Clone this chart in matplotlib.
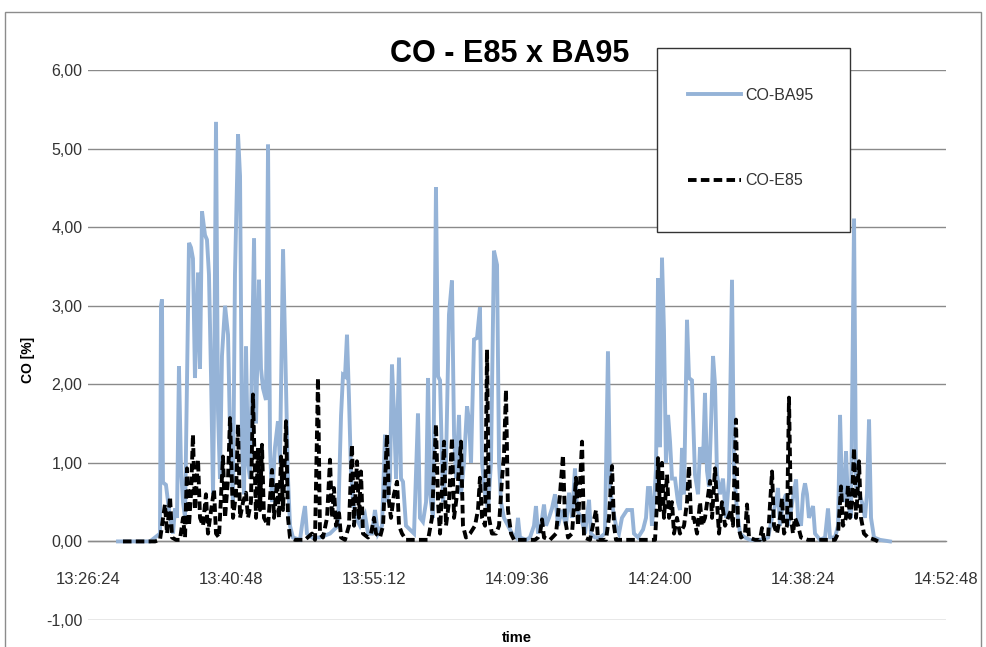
import matplotlib
matplotlib.use('Agg')
import matplotlib.pyplot as plt
from matplotlib.patches import Rectangle
from matplotlib.ticker import FixedLocator, FuncFormatter

plt.rcParams['font.family'] = ['Liberation Sans', 'DejaVu Sans']

# ---------------- data (time in minutes after 13:00:00, CO in %) ----------------
title = 'CO - E85 x BA95'
x_label = 'time'
y_label = 'CO [%]'
series_names = ['CO-BA95', 'CO-E85']

x_ticks_min = [26.4, 40.8, 55.2, 69.6, 84.0, 98.4, 112.8]
y_ticks = [-1, 0, 1, 2, 3, 4, 5, 6]

ba95_time = [29.42, 32.64, 33.15, 33.65, 33.75, 33.85, 33.95, 34.25, 34.46, 34.66,
             34.96, 35.16, 35.36, 35.56, 35.77, 35.97, 36.17, 36.57, 36.77, 36.97,
             37.17, 37.38, 37.48, 37.68, 37.88, 38.18, 38.38, 38.58, 38.79, 38.99,
             39.09, 39.29, 39.49, 39.69, 39.89, 40.20, 40.50, 40.70, 41.00, 41.20,
             41.51, 41.71, 41.91, 42.11, 42.31, 42.51, 42.71, 43.12, 43.32, 43.62,
             43.82, 44.02, 44.32, 44.53, 44.73, 44.93, 45.23, 45.53, 45.73, 46.04,
             46.34, 46.54, 46.74, 47.04, 47.75, 48.05, 48.25, 48.45, 48.96, 49.76,
             50.77, 51.58, 51.88, 52.08, 52.28, 52.48, 52.68, 52.88, 53.09, 53.39,
             53.79, 54.29, 54.60, 55.00, 55.30, 55.60, 56.01, 56.31, 56.51, 56.81,
             57.01, 57.21, 57.42, 57.72, 57.92, 58.12, 58.42, 58.83, 59.23, 59.63,
             59.83, 60.13, 60.44, 60.64, 60.84, 61.14, 61.44, 61.65, 61.85, 62.15,
             62.45, 62.75, 63.05, 63.26, 63.46, 63.76, 63.96, 64.26, 64.57, 64.77,
             64.97, 65.27, 65.57, 65.87, 66.08, 66.38, 66.68, 66.98, 67.28, 67.59,
             67.79, 67.99, 68.29, 68.69, 69.10, 69.50, 69.70, 69.90, 70.51, 70.91,
             71.31, 71.51, 71.72, 72.02, 72.32, 72.52, 72.82, 73.12, 73.43, 73.73,
             74.13, 74.53, 74.84, 75.14, 75.44, 75.64, 76.05, 76.45, 76.85, 77.05,
             77.45, 77.96, 78.46, 78.76, 78.97, 79.27, 79.57, 79.87, 80.17, 80.68,
             81.18, 81.38, 81.79, 82.29, 82.59, 82.79, 82.99, 83.19, 83.40, 83.60,
             83.80, 84.00, 84.20, 84.40, 84.60, 84.81, 85.01, 85.21, 85.51, 85.81,
             86.01, 86.22, 86.42, 86.72, 86.92, 87.22, 87.52, 87.83, 88.03, 88.33,
             88.53, 88.73, 88.93, 89.14, 89.34, 89.54, 89.74, 90.04, 90.34, 90.65,
             90.95, 91.25, 91.45, 91.75, 92.06, 92.56, 93.06, 94.07, 94.88, 95.28,
             95.68, 95.88, 96.08, 96.39, 96.69, 96.89, 97.19, 97.70, 97.90, 98.20,
             98.40, 98.60, 98.80, 99.00, 99.41, 99.61, 100.11, 100.62, 100.92, 101.12,
             101.62, 101.93, 102.13, 102.33, 102.53, 102.73, 102.93, 103.23, 103.54, 103.74,
             104.04, 104.34, 104.64, 104.84, 105.05, 105.25, 105.55, 106.15, 107.16]
ba95_co = [0.00, 0.00, 0.05, 0.10, 3.00, 3.08, 0.75, 0.72, 0.50, 0.30,
           0.10, 0.42, 0.30, 2.23, 0.90, 0.50, 0.30, 3.80, 3.74, 3.60,
           2.08, 2.95, 3.42, 2.20, 4.20, 3.90, 3.84, 3.40, 2.10, 0.60,
           1.70, 5.34, 1.66, 0.80, 2.36, 3.00, 2.63, 1.40, 0.50, 3.40,
           5.18, 4.65, 1.20, 0.60, 2.48, 1.00, 0.80, 3.86, 1.50, 3.33,
           2.20, 1.95, 1.80, 5.05, 1.20, 0.50, 1.20, 1.53, 1.00, 3.72,
           1.95, 0.80, 0.20, 0.05, 0.02, 0.30, 0.45, 0.10, 0.05, 0.05,
           0.10, 0.20, 1.60, 2.12, 2.10, 2.63, 1.83, 0.90, 0.50, 0.30,
           0.20, 0.34, 0.10, 0.10, 0.40, 0.10, 0.20, 1.36, 0.50, 0.80,
           2.25, 1.66, 0.80, 2.34, 0.80, 0.76, 0.20, 0.15, 0.10, 1.63,
           0.30, 0.25, 0.50, 2.08, 0.60, 0.30, 4.51, 2.10, 2.05, 0.50,
           1.00, 2.89, 3.32, 1.36, 0.80, 1.61, 0.60, 1.00, 1.72, 1.53,
           1.00, 2.57, 2.59, 2.98, 1.00, 0.60, 0.40, 1.00, 3.70, 3.52,
           1.00, 0.50, 0.30, 0.20, 0.10, 0.05, 0.30, 0.05, 0.02, 0.05,
           0.20, 0.45, 0.10, 0.20, 0.47, 0.20, 0.30, 0.42, 0.60, 0.20,
           0.40, 0.20, 0.62, 0.30, 0.93, 0.40, 0.30, 0.10, 0.53, 0.10,
           0.05, 0.05, 0.10, 2.42, 0.68, 0.40, 0.20, 0.10, 0.30, 0.40,
           0.40, 0.10, 0.05, 0.15, 0.30, 0.68, 0.68, 0.20, 0.50, 0.93,
           3.35, 1.20, 3.61, 2.68, 1.00, 1.61, 1.27, 0.80, 0.80, 0.50,
           0.40, 1.19, 0.60, 2.82, 2.08, 2.05, 0.85, 0.60, 1.20, 1.00,
           1.89, 0.90, 0.70, 1.50, 2.36, 2.00, 0.85, 0.60, 0.80, 0.30,
           0.80, 3.33, 0.90, 0.40, 0.10, 0.05, 0.02, 0.02, 0.05, 0.30,
           0.50, 0.68, 0.20, 0.50, 0.60, 0.20, 0.40, 0.79, 0.30, 0.20,
           0.60, 0.74, 0.60, 0.30, 0.45, 0.10, 0.02, 0.05, 0.42, 0.05,
           0.05, 0.20, 1.61, 0.60, 0.50, 1.15, 0.50, 0.30, 4.11, 0.70,
           0.60, 0.50, 0.30, 0.60, 1.55, 0.30, 0.05, 0.02, 0.00]

e85_time = [29.92, 33.15, 33.65, 34.15, 34.36, 34.66, 34.86, 35.26, 35.66, 35.97,
            36.17, 36.37, 36.57, 36.77, 36.97, 37.17, 37.48, 37.68, 37.98, 38.28,
            38.48, 38.69, 39.09, 39.29, 39.59, 39.99, 40.20, 40.50, 40.70, 41.00,
            41.30, 41.51, 41.71, 42.01, 42.31, 42.51, 42.81, 43.01, 43.32, 43.52,
            43.72, 43.92, 44.12, 44.53, 44.93, 45.13, 45.43, 45.63, 45.84, 46.04,
            46.34, 46.54, 46.74, 47.24, 48.25, 48.96, 49.26, 49.56, 49.76, 50.06,
            50.47, 50.77, 50.97, 51.17, 51.37, 51.68, 51.88, 52.28, 52.68, 52.98,
            53.19, 53.49, 53.69, 53.89, 54.09, 54.60, 54.90, 55.20, 55.40, 55.80,
            56.11, 56.51, 56.71, 56.91, 57.21, 57.52, 57.72, 58.02, 58.42, 59.83,
            60.64, 61.04, 61.44, 61.65, 61.85, 62.25, 62.45, 62.75, 63.05, 63.26,
            63.56, 63.96, 64.16, 64.46, 64.87, 65.37, 65.67, 65.87, 66.08, 66.38,
            66.58, 66.78, 67.08, 67.49, 67.79, 68.09, 68.29, 68.49, 68.69, 69.00,
            69.30, 71.41, 71.72, 71.92, 72.12, 72.32, 72.92, 73.53, 73.93, 74.23,
            74.43, 74.74, 75.14, 75.54, 75.74, 76.15, 76.35, 76.95, 77.56, 77.76,
            78.56, 78.86, 79.17, 79.37, 79.57, 83.50, 83.70, 83.80, 84.00, 84.20,
            84.40, 84.71, 84.91, 85.21, 85.41, 85.71, 86.01, 86.42, 86.72, 86.92,
            87.12, 87.42, 87.73, 88.03, 88.23, 88.53, 89.04, 89.24, 89.54, 89.74,
            89.94, 90.24, 90.55, 90.85, 91.15, 91.35, 91.65, 91.86, 92.16, 92.56,
            92.76, 92.96, 93.57, 94.07, 94.27, 94.47, 94.88, 95.28, 95.48, 95.78,
            96.08, 96.29, 96.49, 96.79, 96.99, 97.19, 97.39, 97.59, 97.90, 98.20,
            98.90, 101.62, 101.93, 102.23, 102.43, 102.73, 102.93, 103.13, 103.33, 103.54,
            103.74, 103.84, 104.04, 104.24, 104.54, 104.95, 105.65, 105.95]
e85_co = [0.00, 0.00, 0.02, 0.47, 0.10, 0.57, 0.05, 0.02, 0.02, 0.30,
          0.05, 0.93, 0.20, 0.60, 1.36, 0.40, 1.04, 0.30, 0.20, 0.60,
          0.10, 0.30, 0.66, 0.10, 0.05, 1.08, 0.30, 0.80, 1.57, 0.30,
          0.60, 1.49, 0.30, 0.50, 0.62, 0.30, 0.50, 1.87, 0.30, 1.19,
          0.40, 1.23, 0.30, 0.20, 0.91, 0.30, 0.76, 0.30, 1.08, 0.40,
          1.53, 0.30, 0.05, 0.02, 0.02, 0.10, 0.02, 2.08, 0.10, 0.05,
          0.30, 1.04, 0.30, 0.68, 0.20, 0.36, 0.05, 0.02, 0.20, 1.23,
          0.20, 1.02, 0.30, 0.89, 0.10, 0.05, 0.10, 0.30, 0.10, 0.05,
          0.20, 1.36, 0.50, 0.30, 0.60, 0.76, 0.20, 0.10, 0.02, 0.02,
          0.02, 0.30, 1.49, 0.50, 0.10, 1.27, 0.20, 0.50, 1.32, 0.30,
          0.60, 1.27, 0.20, 0.05, 0.10, 0.20, 0.40, 0.81, 0.30, 0.20,
          2.44, 0.30, 0.10, 0.10, 0.20, 0.80, 1.10, 1.93, 0.40, 0.10,
          0.02, 0.02, 0.05, 0.10, 0.28, 0.05, 0.02, 0.10, 0.60, 1.10,
          0.30, 0.05, 0.10, 0.81, 0.20, 1.27, 0.05, 0.02, 0.40, 0.02,
          0.02, 0.30, 0.96, 0.20, 0.02, 0.02, 0.50, 1.06, 0.40, 1.00,
          0.30, 0.85, 0.30, 0.50, 0.10, 0.30, 0.10, 0.20, 0.50, 0.96,
          0.30, 0.30, 0.10, 0.50, 0.20, 0.30, 0.77, 0.30, 0.93, 0.50,
          0.10, 0.50, 0.20, 0.30, 0.40, 0.20, 1.55, 0.20, 0.05, 0.10,
          0.47, 0.05, 0.02, 0.02, 0.17, 0.02, 0.05, 0.89, 0.20, 0.10,
          0.30, 0.55, 0.10, 0.20, 1.83, 0.30, 0.10, 0.30, 0.20, 0.05,
          0.02, 0.02, 0.10, 0.70, 0.20, 0.30, 0.72, 0.30, 0.50, 1.19,
          0.30, 0.50, 1.02, 0.30, 0.10, 0.05, 0.02, 0.00]

# ---------------- figure ----------------
W, H = 987, 647
fig = plt.figure(figsize=(W / 100, H / 100), dpi=100)
fig.patch.set_facecolor('white')

def fx(px):
    return px / W

def fy(py):
    return 1 - py / H

ax = fig.add_axes([fx(88), fy(620), fx(946) - fx(88), fy(70) - fy(620)])
ax.set_xlim(x_ticks_min[0], x_ticks_min[-1])
ax.set_ylim(y_ticks[0], y_ticks[-1])

grid_c = '#8a8a8a'
ax.plot(ba95_time, ba95_co, color='#95B3D7', lw=2.8, label=series_names[0],
        solid_joinstyle='miter', zorder=3)
ax.plot(e85_time, e85_co, color='black', lw=2.8, linestyle=(0, (2.2, 1.1)),
        label=series_names[1], zorder=4)

ax.yaxis.set_major_locator(FixedLocator(y_ticks))
ax.xaxis.set_major_locator(FixedLocator(x_ticks_min))
ax.yaxis.set_major_formatter(FuncFormatter(lambda v, p: f'{v:.2f}'.replace('.', ',')))

def fmt_time(v, p):
    s = int(round(v * 60))
    return f'{13 + s // 3600}:{(s % 3600) // 60:02d}:{s % 60:02d}'

ax.xaxis.set_major_formatter(FuncFormatter(fmt_time))
ax.yaxis.grid(True, color=grid_c, lw=1.0)
ax.set_axisbelow(True)
for side in ['left', 'right', 'top']:
    ax.spines[side].set_visible(False)
ax.spines['bottom'].set_position(('data', 0))
ax.spines['bottom'].set_color(grid_c)
ax.spines['bottom'].set_linewidth(1.0)
ax.tick_params(axis='x', length=0, pad=22, labelsize=12, colors='#333333')
ax.tick_params(axis='y', length=0, pad=4, labelsize=11.5, colors='#333333')
ax.set_facecolor('none')

# outer chart border
fig.patches.append(Rectangle((fx(5), -0.01), fx(981) - fx(5), fy(12) + 0.01,
                             transform=fig.transFigure, fill=False,
                             edgecolor='#8c8c8c', lw=1.0, zorder=0))

# title and axis labels
fig.text(fx(510), fy(54), title, ha='center', va='center', fontsize=22,
         fontweight='bold', color='black',
         family=['Liberation Sans Narrow', 'Liberation Sans', 'DejaVu Sans'])
fig.text(fx(28), fy(360), y_label, ha='center', va='center', rotation=90,
         fontsize=10, fontweight='bold', color='black')
fig.text(fx(517), fy(638), x_label, ha='center', va='center', fontsize=10.5,
         fontweight='bold', color='black')

# legend frame + legend
fig.patches.append(Rectangle((fx(657), fy(232)), fx(850) - fx(657), fy(48) - fy(232),
                             transform=fig.transFigure, facecolor='white',
                             edgecolor='#333333', lw=1.0, zorder=5))
leg = fig.legend(loc='upper left', bbox_to_anchor=(fx(688), fy(88)),
                 bbox_transform=fig.transFigure, frameon=False, fontsize=11.5,
                 handlelength=3.3, handletextpad=0.3, labelspacing=4.4,
                 borderpad=0, borderaxespad=0)
leg.set_zorder(6)
for t in leg.get_texts():
    t.set_color('#333333')

fig.savefig('out.png', dpi=100)
